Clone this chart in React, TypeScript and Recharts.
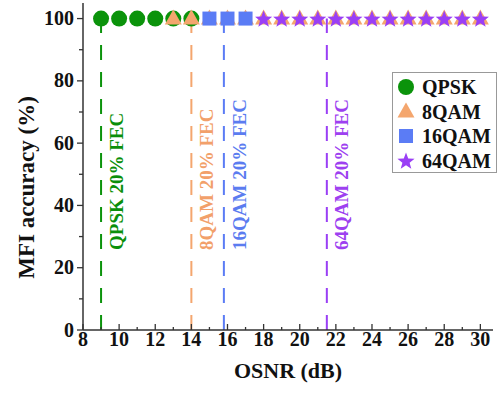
import { ScatterChart, Scatter, XAxis, YAxis, ReferenceLine } from 'recharts'

const FONT = "'Liberation Serif', 'Times New Roman', serif"

// OSNR (dB) points per modulation format, accuracy in %
const qpskOsnr = [9, 10, 11, 12, 13, 14]
const qpskAcc = [100, 100, 100, 100, 100, 100]
const qam8Osnr = [13, 14, 15, 16, 17, 18, 19, 20, 21, 22, 23, 24, 25, 26, 27, 28, 29, 30]
const qam8Acc = [100, 100, 100, 100, 100, 100, 100, 100, 100, 100, 100, 100, 100, 100, 100, 100, 100, 100]
const qam16Osnr = [15, 16, 17]
const qam16Acc = [100, 100, 100]
const qam64Osnr = [18, 19, 20, 21, 22, 23, 24, 25, 26, 27, 28, 29, 30]
const qam64Acc = [100, 100, 100, 100, 100, 100, 100, 100, 100, 100, 100, 100, 100]

// 20% FEC threshold OSNR per format
const fecNames = ['QPSK 20% FEC', '8QAM 20% FEC', '16QAM 20% FEC', '64QAM 20% FEC']
const fecOsnr = [9, 14, 15.8, 21.5]

const xTicks = [8, 9, 10, 11, 12, 13, 14, 15, 16, 17, 18, 19, 20, 21, 22, 23, 24, 25, 26, 27, 28, 29, 30]
const yTicks = [0, 10, 20, 30, 40, 50, 60, 70, 80, 90, 100]

const GREEN = '#0b930b'
const ORANGE = '#f4a66e'
const BLUE = '#5b7cf5'
const PURPLE = '#9a3ff5'
const fecColors = [GREEN, ORANGE, BLUE, PURPLE]
const fecText = ['#0a8f0a', '#f2a06a', '#5b7cf0', '#9d40f0']

const zip = (xs: number[], ys: number[]) => xs.map((x, i) => ({ x, y: ys[i] }))

const circle = (c: string) => (p: any) => <circle cx={p.cx} cy={p.cy} r={8} fill={c} />
const triangle = (c: string) => (p: any) => (
  <polygon points={`${p.cx},${p.cy - 9} ${p.cx + 8.5},${p.cy + 6} ${p.cx - 8.5},${p.cy + 6}`} fill={c} />
)
const square = (c: string) => (p: any) => <rect x={p.cx - 7} y={p.cy - 7} width={14} height={14} fill={c} />
const starPts = (cx: number, cy: number, ro: number, ri: number) => {
  const pts: string[] = []
  for (let i = 0; i < 10; i++) {
    const r = i % 2 === 0 ? ro : ri
    const a = -Math.PI / 2 + (i * Math.PI) / 5
    pts.push(`${cx + r * Math.cos(a)},${cy + r * Math.sin(a)}`)
  }
  return pts.join(' ')
}
const star = (c: string) => (p: any) => <polygon points={starPts(p.cx, p.cy + 1, 9, 3.8)} fill={c} />

const XTick = (p: any) => {
  const v = p.payload.value
  const major = v % 2 === 0
  return (
    <g>
      <line x1={p.x} x2={p.x} y1={p.y} y2={p.y - (major ? 6 : 3)} stroke="#333" strokeWidth={1.3} />
      {major && (
        <text x={p.x} y={p.y + 16} textAnchor="middle" fontFamily={FONT} fontWeight="bold" fontSize={20} fill="#111">
          {v}
        </text>
      )}
    </g>
  )
}

const YTick = (p: any) => {
  const v = p.payload.value
  const major = v % 20 === 0
  return (
    <g>
      <line x1={p.x} x2={p.x - (major ? 6 : 4)} y1={p.y} y2={p.y} stroke="#333" strokeWidth={1.3} />
      {major && (
        <text x={p.x - 9} y={p.y + 6.5} textAnchor="end" fontFamily={FONT} fontWeight="bold" fontSize={20} fill="#111">
          {v}
        </text>
      )}
    </g>
  )
}

const fecLabel = (i: number) => (props: any) => {
  const vb = props.viewBox
  const x = vb.x + 15
  const y = vb.y + vb.height - 80
  return (
    <text
      transform={`translate(${x},${y}) rotate(-90)`}
      dy="0.35em"
      textAnchor="start"
      fontFamily={FONT}
      fontWeight="bold"
      fontSize={19}
      fill={fecText[i]}
    >
      {fecNames[i]}
    </text>
  )
}

const legendItems = [
  { name: 'QPSK', shape: circle(GREEN) },
  { name: '8QAM', shape: triangle(ORANGE) },
  { name: '16QAM', shape: square(BLUE) },
  { name: '64QAM', shape: star(PURPLE) },
]

const LegendBox = () => (
  <svg width={105} height={101} style={{ position: 'absolute', left: 392, top: 72, display: 'block' }}>
    <rect x={0.5} y={0.5} width={104} height={100} fill="#fff" stroke="#999" />
    {legendItems.map((it, i) => {
      const cy = 15 + i * 24.5
      return (
        <g key={it.name}>
          {it.shape({ cx: 14, cy })}
          <text x={30} y={cy + 7} fontFamily={FONT} fontWeight="bold" fontSize={20} fill="#111">
            {it.name}
          </text>
        </g>
      )
    })}
  </svg>
)

export default function App() {
  return (
    <div style={{ position: 'absolute', left: 0, top: 0, width: 499, height: 393, background: '#fff' }}>
      <ScatterChart width={499} height={393} margin={{ top: 3, right: 6, bottom: 0, left: 0 }}>
        <XAxis
          type="number"
          dataKey="x"
          domain={[8, 30.7]}
          ticks={xTicks}
          interval={0}
          tickSize={0}
          tickMargin={0}
          tick={<XTick />}
          height={63}
          stroke="#333"
          strokeWidth={1.5}
          label={{
            content: (p: any) => (
              <text
                x={p.viewBox.x + p.viewBox.width / 2}
                y={p.viewBox.y + 48}
                textAnchor="middle"
                fontFamily={FONT}
                fontWeight="bold"
                fontSize={22}
                fill="#111"
              >
                OSNR (dB)
              </text>
            ),
          }}
        />
        <YAxis
          type="number"
          dataKey="y"
          domain={[0, 105]}
          ticks={yTicks}
          interval={0}
          tickSize={0}
          tickMargin={0}
          tick={<YTick />}
          width={83}
          stroke="#333"
          strokeWidth={1.5}
          label={{
            content: (p: any) => (
              <text
                transform={`translate(${p.viewBox.x + 26},${p.viewBox.y + p.viewBox.height / 2 + 21}) rotate(-90)`}
                dy="0.35em"
                textAnchor="middle"
                fontFamily={FONT}
                fontWeight="bold"
                fontSize={23}
                fill="#111"
              >
                MFI accuracy (%)
              </text>
            ),
          }}
        />
        {fecOsnr.map((x, i) => (
          <ReferenceLine
            key={fecNames[i]}
            segment={[{ x, y: 0 }, { x, y: 100 }]}
            stroke={fecColors[i]}
            strokeWidth={2}
            strokeDasharray="15 12"
            label={fecLabel(i)}
          />
        ))}
        <Scatter name="QPSK" data={zip(qpskOsnr, qpskAcc)} shape={circle(GREEN)} isAnimationActive={false} />
        <Scatter name="8QAM" data={zip(qam8Osnr, qam8Acc)} shape={triangle(ORANGE)} isAnimationActive={false} />
        <Scatter name="16QAM" data={zip(qam16Osnr, qam16Acc)} shape={square(BLUE)} isAnimationActive={false} />
        <Scatter name="64QAM" data={zip(qam64Osnr, qam64Acc)} shape={star(PURPLE)} isAnimationActive={false} />
      </ScatterChart>
      <LegendBox />
    </div>
  )
}
